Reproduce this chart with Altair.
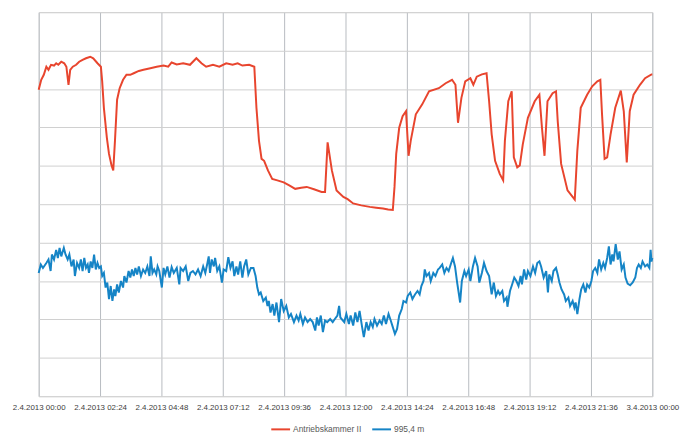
import altair as alt
import pandas as pd

# Time in minutes after 2.4.2013 00:00, level on a 0-100 scale (gridlines every 10)
red_name = "Antriebskammer II"
red_minutes = [0, 6, 12, 18, 23, 29, 36, 41, 46, 53, 60, 65, 70, 74, 80, 88, 95, 103, 111, 121,
               128, 138, 146, 149, 153, 160, 165, 171, 175, 179, 184, 190, 198, 206, 215, 223, 235, 246, 262, 277,
               293, 304, 312, 324, 339, 355, 370, 382, 393, 409, 424, 440, 455, 467, 478, 494, 506, 511, 517, 523,
               529, 538, 548, 560, 575, 588, 602, 616, 629, 646, 664, 672, 678, 688, 699, 715, 725, 738, 757, 777,
               792, 808, 820, 831, 835, 839, 846, 854, 862, 868, 873, 885, 900, 916, 939, 955, 970, 978, 984, 992,
               1001, 1013, 1020, 1028, 1040, 1051, 1057, 1063, 1071, 1082, 1090, 1094, 1102, 1110, 1115, 1123, 1129, 1136, 1148, 1164,
               1175, 1181, 1187, 1194, 1206, 1214, 1218, 1226, 1241, 1253, 1258, 1264, 1272, 1287, 1299, 1311, 1318, 1322, 1328, 1334,
               1342, 1353, 1366, 1373, 1380, 1387, 1396, 1411, 1423, 1438, 1440]
red_level = [79.8, 82.4, 83.7, 85.8, 85.0, 86.3, 86.1, 86.7, 86.3, 87.1, 86.7, 85.8, 81.1, 85.0, 85.8, 86.3, 87.1, 87.6, 88.0, 88.4,
             88.0, 86.7, 85.8, 82.0, 75.1, 67.3, 63.1, 60.1, 58.8, 66.5, 77.2, 80.2, 82.4, 83.7, 83.7, 84.1, 84.7, 85.0, 85.4, 85.8,
             86.1, 85.8, 86.9, 86.4, 86.7, 86.3, 88.0, 86.7, 85.8, 86.3, 85.8, 86.7, 86.3, 86.7, 86.1, 86.3, 85.8, 75.1, 66.5, 61.8,
             61.3, 58.8, 56.6, 56.2, 55.7, 54.9, 54.0, 54.3, 54.5, 53.9, 53.2, 53.2, 66.1, 58.8, 53.6, 51.9, 51.3, 50.2, 49.7, 49.3,
             49.1, 48.9, 48.6, 48.5, 54.5, 63.1, 69.9, 72.9, 74.2, 62.6, 66.5, 73.4, 76.0, 79.4, 80.2, 81.5, 82.4, 81.1, 71.2, 77.7,
             82.0, 82.8, 81.1, 83.2, 83.8, 84.1, 76.8, 68.2, 61.3, 57.9, 56.2, 66.5, 76.8, 79.4, 62.2, 59.6, 60.1, 65.6, 72.5, 76.8,
             78.5, 69.9, 62.6, 76.8, 78.9, 79.4, 71.6, 60.5, 53.6, 51.9, 51.2, 63.9, 75.1, 78.5, 80.7, 82.0, 82.4, 73.4, 61.8, 62.2,
             68.2, 75.1, 79.6, 74.2, 60.9, 74.2, 78.5, 81.1, 82.8, 83.8, 83.8]

blue_name = "995,4 m"
blue_minutes = [0, 5, 10, 18, 23, 28, 31, 36, 41, 45, 49, 53, 59, 63, 68, 72, 77, 82, 85, 90,
                95, 99, 103, 107, 111, 115, 118, 122, 126, 130, 134, 138, 142, 146, 149, 153, 157, 161, 165, 169,
                173, 177, 180, 184, 188, 193, 198, 201, 206, 211, 215, 219, 223, 227, 231, 235, 240, 245, 250, 255,
                260, 263, 267, 271, 276, 279, 283, 289, 293, 297, 302, 307, 312, 317, 324, 330, 333, 339, 345, 351,
                356, 362, 368, 374, 380, 386, 391, 396, 399, 402, 406, 411, 414, 419, 424, 430, 434, 440, 445, 450,
                455, 459, 464, 468, 473, 478, 482, 487, 492, 498, 504, 509, 513, 517, 521, 527, 533, 537, 540, 544,
                549, 553, 558, 564, 569, 575, 581, 587, 592, 599, 605, 610, 614, 620, 625, 631, 637, 643, 649, 653,
                657, 662, 667, 672, 677, 684, 690, 695, 701, 705, 708, 717, 722, 728, 732, 738, 743, 748, 753, 759,
                763, 769, 774, 779, 784, 788, 794, 800, 805, 810, 815, 821, 825, 831, 836, 841, 846, 852, 856, 862,
                866, 872, 877, 883, 889, 894, 898, 903, 906, 910, 916, 920, 926, 931, 937, 941, 947, 952, 957, 962,
                968, 972, 977, 982, 985, 989, 993, 999, 1003, 1009, 1013, 1019, 1024, 1030, 1034, 1040, 1045, 1051, 1057, 1063,
                1068, 1073, 1078, 1082, 1088, 1092, 1098, 1100, 1106, 1111, 1116, 1121, 1126, 1131, 1134, 1139, 1144, 1148, 1154, 1160,
                1165, 1170, 1175, 1179, 1185, 1191, 1195, 1198, 1204, 1208, 1214, 1218, 1222, 1227, 1233, 1237, 1243, 1247, 1253, 1257,
                1260, 1264, 1269, 1273, 1278, 1283, 1287, 1292, 1297, 1301, 1306, 1311, 1315, 1320, 1325, 1329, 1334, 1338, 1342, 1346,
                1349, 1354, 1359, 1363, 1368, 1373, 1377, 1382, 1388, 1394, 1400, 1404, 1408, 1413, 1417, 1423, 1428, 1433, 1436, 1438, 1440]
blue_level = [32.1, 34.3, 33.4, 34.7, 35.6, 32.6, 36.9, 35.6, 38.1, 36.0, 38.6, 36.4, 38.6, 36.9, 35.6, 36.9, 33.8, 35.6, 31.3, 34.7,
              33.4, 35.6, 32.6, 36.0, 33.4, 34.3, 32.1, 35.1, 33.4, 36.9, 33.0, 34.7, 33.4, 33.8, 31.3, 32.1, 28.3, 29.6, 25.3, 28.7,
              24.8, 27.8, 26.1, 29.1, 27.0, 30.0, 28.3, 31.3, 29.6, 32.6, 30.9, 33.0, 31.3, 33.4, 31.7, 33.8, 31.3, 33.0, 32.1, 33.8,
              31.3, 36.4, 32.1, 33.0, 31.7, 33.8, 32.6, 28.3, 33.4, 31.7, 33.8, 30.9, 33.6, 32.1, 33.4, 29.1, 33.4, 32.6, 33.8, 30.0,
              32.1, 32.6, 31.7, 33.0, 31.3, 33.8, 32.1, 34.7, 36.4, 32.1, 35.6, 33.8, 36.0, 32.6, 33.8, 29.6, 33.0, 32.6, 36.2, 33.4,
              35.1, 31.3, 33.8, 31.7, 35.1, 30.9, 33.8, 35.6, 31.7, 33.4, 33.4, 31.3, 28.3, 26.5, 27.0, 24.8, 25.7, 23.5, 24.8, 21.8,
              24.0, 21.0, 24.4, 19.3, 25.3, 22.2, 23.5, 20.5, 21.4, 19.3, 21.0, 19.7, 21.4, 18.8, 20.5, 19.3, 20.1, 19.3, 17.1, 20.5,
              18.4, 21.0, 16.7, 19.7, 19.3, 20.1, 19.3, 20.1, 21.0, 23.5, 20.5, 19.3, 21.4, 18.8, 21.0, 18.4, 21.8, 19.3, 22.2, 18.0,
              15.4, 19.3, 17.1, 19.3, 18.0, 20.1, 18.4, 19.7, 18.8, 21.0, 18.8, 21.4, 20.1, 18.0, 16.2, 17.5, 21.0, 22.7, 24.8, 24.4,
              26.1, 27.0, 25.3, 26.5, 27.4, 26.5, 28.7, 30.0, 33.0, 31.3, 32.1, 30.0, 32.1, 31.3, 33.0, 33.4, 34.3, 32.1, 33.4, 32.6,
              34.7, 36.0, 33.8, 29.6, 27.4, 24.4, 30.0, 32.6, 31.3, 33.0, 30.0, 33.8, 36.0, 33.8, 29.6, 32.1, 34.7, 32.6, 31.3, 26.5,
              29.6, 26.1, 27.4, 26.5, 27.4, 24.8, 25.7, 23.3, 27.4, 29.1, 30.9, 30.0, 28.7, 31.3, 29.1, 33.0, 30.4, 32.6, 31.3, 33.8,
              32.1, 34.7, 35.1, 33.8, 30.9, 32.6, 27.0, 31.7, 30.0, 32.6, 33.4, 31.7, 29.6, 27.8, 26.5, 24.8, 25.7, 23.5, 24.8, 23.1,
              24.4, 21.4, 25.3, 27.8, 29.1, 27.0, 29.1, 28.3, 30.0, 32.6, 33.4, 32.1, 35.6, 33.0, 34.7, 33.4, 36.0, 39.0, 34.3, 36.9,
              35.1, 39.6, 35.6, 37.7, 33.0, 34.3, 30.9, 29.3, 28.9, 29.6, 30.9, 33.4, 34.3, 33.4, 35.1, 33.8, 34.3, 33.4, 38.1, 35.1, 36.0]

tick_minutes = [0, 144, 288, 432, 576, 720, 864, 1008, 1152, 1296, 1440]
tick_labels = ["2.4.2013 00:00", "2.4.2013 02:24", "2.4.2013 04:48", "2.4.2013 07:12",
               "2.4.2013 09:36", "2.4.2013 12:00", "2.4.2013 14:24", "2.4.2013 16:48",
               "2.4.2013 19:12", "2.4.2013 21:36", "3.4.2013 00:00"]
grid_levels = [0, 10, 20, 30, 40, 50, 60, 70, 80, 90, 100]

series_names = [red_name, blue_name]
series_colors = ["#e8452e", "#1584c6"]

df = pd.concat([
    pd.DataFrame({"minute": red_minutes, "level": red_level, "series": red_name, "order": range(len(red_minutes))}),
    pd.DataFrame({"minute": blue_minutes, "level": blue_level, "series": blue_name, "order": range(len(blue_minutes))}),
], ignore_index=True)

label_expr = "[" + ",".join("'" + s + "'" for s in tick_labels) + "][round(datum.value / 144)]"

chart = alt.Chart(df).mark_line(strokeWidth=2).encode(
    x=alt.X("minute:Q",
            scale=alt.Scale(domain=[0, 1440], nice=False),
            axis=alt.Axis(values=tick_minutes, labelExpr=label_expr, title=None,
                          grid=True, gridColor="#b7bbc0", gridWidth=1,
                          domain=False, ticks=False, labelPadding=7,
                          labelFlush=False, labelOverlap=False,
                          labelFont="Liberation Sans", labelFontSize=8, labelColor="#404040")),
    y=alt.Y("level:Q",
            scale=alt.Scale(domain=[0, 100], nice=False),
            axis=alt.Axis(values=grid_levels, title=None, labels=False, ticks=False,
                          domain=False, grid=True, gridColor="#cfcfcf", gridWidth=1)),
    color=alt.Color("series:N",
                    scale=alt.Scale(domain=series_names, range=series_colors),
                    legend=alt.Legend(title=None, orient="none", direction="horizontal",
                                      legendX=234, legendY=411,
                                      symbolType="stroke", symbolSize=361, symbolStrokeWidth=2,
                                      labelOffset=2,
                                      labelFont="Liberation Sans", labelFontSize=8.5,
                                      labelColor="#595959", columnPadding=7)),
    order="order:Q",
).properties(
    width=620, height=388,
    autosize=alt.AutoSizeParams(type="none"),
    padding={"left": 31, "top": 2, "right": 32, "bottom": 41},
).configure_view(stroke="#cfcfcf").configure(background="white")

chart.save("out.html", embed_options={"renderer": "svg", "actions": False})
